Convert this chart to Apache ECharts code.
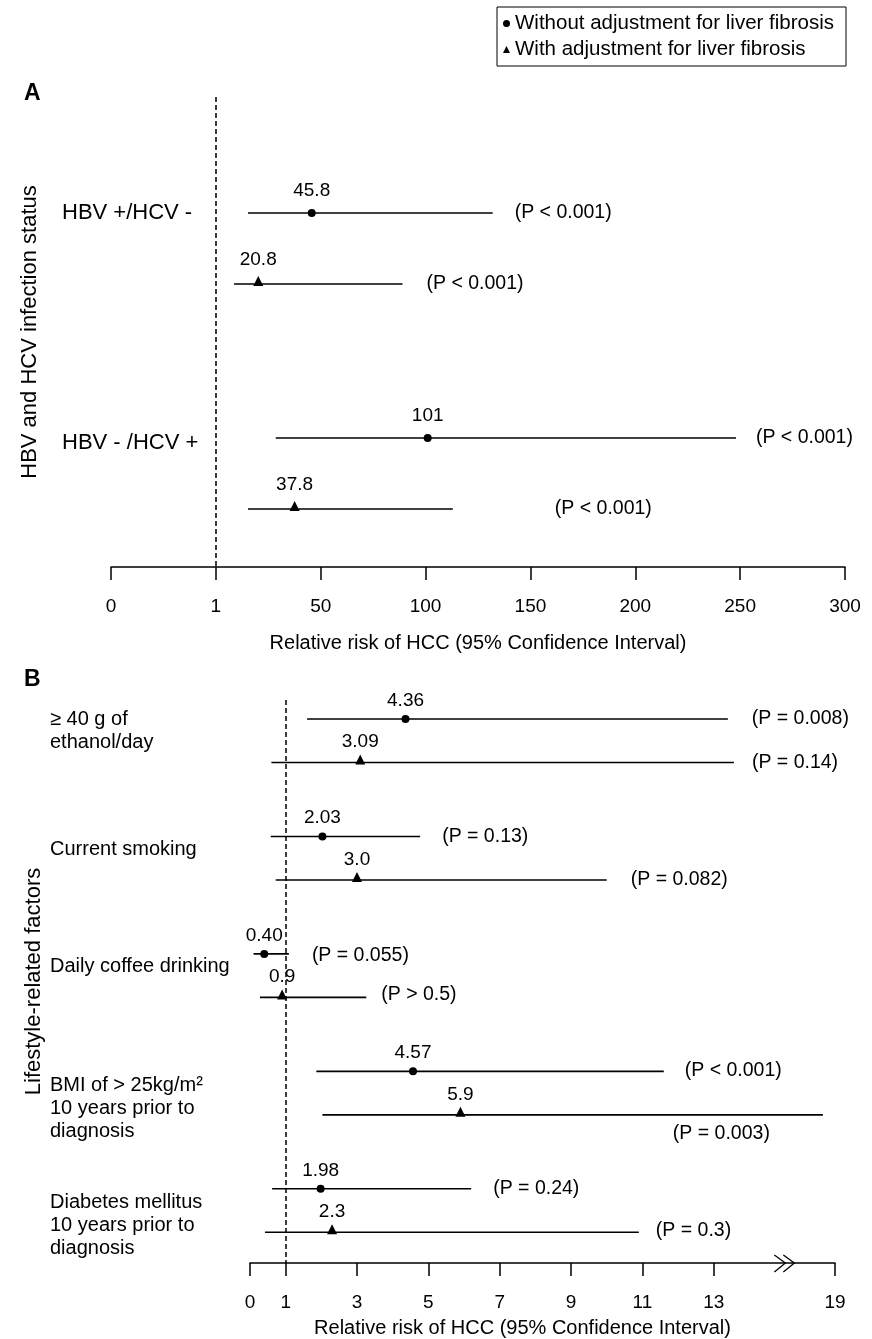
<!DOCTYPE html>
<html>
<head>
<meta charset="utf-8">
<title>Relative risk of HCC</title>
<script src="https://cdn.jsdelivr.net/npm/echarts@6.0.0/dist/echarts.min.js"></script>
<style>
html, body { margin: 0; padding: 0; background: #fff; }
#hccChart { width: 872px; height: 1339px; }
</style>
</head>
<body>
<div id="hccChart"></div>
<script>
// A: HBV and HCV infection status (rows go dot, triangle, dot, triangle)
var groupsA = ['HBV +/HCV -', 'HBV - /HCV +'];
var rrA = ['45.8', '20.8', '101', '37.8'];
var lowA = [16, 9.5, 29, 16];
var highA = [132, 89, 248, 113];
var pvalA = ['(P < 0.001)', '(P < 0.001)', '(P < 0.001)', '(P < 0.001)'];
var ticksA = [0, 1, 50, 100, 150, 200, 250, 300];

// B: lifestyle-related factors
var groupsB = ['\u2265 40 g of\nethanol/day', 'Current smoking', 'Daily coffee drinking',
    'BMI of > 25kg/m\u00b2\n10 years prior to\ndiagnosis', 'Diabetes mellitus\n10 years prior to\ndiagnosis'];
var rrB = ['4.36', '3.09', '2.03', '3.0', '0.40', '0.9', '4.57', '5.9', '1.98', '2.3'];
var lowB = [1.6, 0.6, 0.58, 0.72, 0.1, 0.28, 1.86, 2.03, 0.62, 0.42];
var highB = [13.7, 14.0, 4.77, 10.0, 1.09, 3.26, 11.6, 18.4, 6.2, 10.9];
var pvalB = ['(P = 0.008)', '(P = 0.14)', '(P = 0.13)', '(P = 0.082)', '(P = 0.055)',
    '(P > 0.5)', '(P < 0.001)', '(P = 0.003)', '(P = 0.24)', '(P = 0.3)'];
var ticksB = [0, 1, 3, 5, 7, 9, 11, 13, 19];

var seriesNames = ['Without adjustment for liver fibrosis', 'With adjustment for liver fibrosis'];

// layout only
var FONT = '"Liberation Sans", Arial, sans-serif';
var INK = '#000';
var slotsA = [0, 1, 2, 3, 4, 5, 6, 7];          // ticks drawn evenly spaced
var slotsB = [0, 1, 3, 5, 7, 9, 11, 13, 16.4];  // axis squeezed after the break at 13
var stepA = 3.17, stepB = 2.7;                  // row slots from one group to the next
var pShiftA = [[22, 0], [24, 0], [20, 0], [102, 0]];
var pShiftB = [[24, 0], [18, 0], [22, 0], [24, 0], [23, 2], [15, -3], [21, -1], [-150, 19], [22, 0], [17, -2]];
var groupDyA = [0, 5];
var groupDyB = [12, 13, 13, 37, 37];

// value -> position on the drawn (piecewise) axis
function toSlot(v, ticks, slots) {
    for (var i = 0; i < ticks.length - 2; i++) {
        if (v <= ticks[i + 1]) break;
    }
    return slots[i] + (v - ticks[i]) / (ticks[i + 1] - ticks[i]) * (slots[i + 1] - slots[i]);
}
function slotLabel(v, ticks, slots) {
    for (var i = 0; i < slots.length; i++) {
        if (Math.abs(slots[i] - v) < 1e-6) return String(ticks[i]);
    }
    return '';
}
function rowOf(i, step) {
    return Math.floor(i / 2) * step + (i % 2);
}

function ciSeries(k, low, high, pvals, shifts, ticks, slots, step) {
    return {
        type: 'custom',
        xAxisIndex: k, yAxisIndex: k,
        z: 2,
        silent: true,
        encode: { x: [0, 1], y: 2 },
        data: low.map(function (lo, i) {
            return [toSlot(lo, ticks, slots), toSlot(high[i], ticks, slots), rowOf(i, step)];
        }),
        renderItem: function (params, api) {
            var a = api.coord([api.value(0), api.value(2)]);
            var b = api.coord([api.value(1), api.value(2)]);
            var sh = shifts[params.dataIndex];
            return {
                type: 'group',
                children: [{
                    type: 'line',
                    shape: { x1: a[0], y1: a[1], x2: b[0], y2: b[1] },
                    style: { stroke: INK, lineWidth: 1.6 }
                }, {
                    type: 'text',
                    x: b[0] + sh[0], y: b[1] + sh[1],
                    style: {
                        text: pvals[params.dataIndex],
                        fontSize: 19.5, fontFamily: FONT, fill: INK,
                        align: 'left', verticalAlign: 'middle'
                    }
                }]
            };
        }
    };
}

function pointSeries(k, kind, rr, ticks, slots, step, labelGap) {
    var data = [];
    rr.forEach(function (r, i) {
        if (i % 2 !== kind) return;
        data.push({ name: r, value: [toSlot(Number(r), ticks, slots), rowOf(i, step)] });
    });
    var s = {
        name: seriesNames[kind],
        type: 'scatter',
        xAxisIndex: k, yAxisIndex: k,
        z: 3,
        symbol: kind === 0 ? 'circle' : 'triangle',
        symbolSize: kind === 0 ? 8 : 10,
        symbolOffset: kind === 0 ? [0, 0] : [0, -3],
        itemStyle: { color: INK, opacity: 1 },
        label: {
            show: true, position: 'top', distance: labelGap,
            formatter: '{b}', fontSize: 19, fontFamily: FONT, color: INK, opacity: 1
        },
        emphasis: { disabled: true },
        data: data
    };
    if (kind === 0) {
        s.markLine = {
            silent: true, symbol: 'none', animation: false,
            label: { show: false },
            lineStyle: { color: INK, type: [5, 3], width: 1.5, opacity: 1 },
            data: [{ xAxis: toSlot(1, ticks, slots) }]
        };
    }
    return s;
}

function xAxisOf(k, ticks, slots, max, gap, namePad) {
    return {
        gridIndex: k, type: 'value', min: 0, max: max,
        axisLine: { show: true, onZero: false, lineStyle: { color: INK, width: 1.5 } },
        axisTick: { show: true, length: 13, customValues: slots, lineStyle: { color: INK, width: 1.5 } },
        axisLabel: {
            customValues: slots, margin: 30, fontSize: 19, fontFamily: FONT, color: INK,
            formatter: function (v) { return slotLabel(v, ticks, slots); }
        },
        splitLine: { show: false },
        name: 'Relative risk of HCC (95% Confidence Interval)',
        nameLocation: 'middle', nameGap: gap,
        nameTextStyle: { fontSize: 20, fontFamily: FONT, color: INK, padding: namePad }
    };
}

function yAxisOf(k, min, max, name, gap) {
    return {
        gridIndex: k, type: 'value', min: min, max: max, inverse: true,
        axisLine: { show: false }, axisTick: { show: false }, axisLabel: { show: false },
        splitLine: { show: false },
        name: name, nameLocation: 'middle', nameRotate: 90, nameGap: gap,
        nameTextStyle: { fontSize: 22, fontFamily: FONT, color: INK }
    };
}

var hccChart = echarts.init(document.getElementById('hccChart'));

var hccOption = {
    backgroundColor: '#fff',
    animation: false,
    textStyle: { fontFamily: FONT },
    title: [
        { text: 'A', left: 19, top: 77, textStyle: { fontSize: 23, fontWeight: 'bold', color: INK, fontFamily: FONT } },
        { text: 'B', left: 19, top: 663, textStyle: { fontSize: 23, fontWeight: 'bold', color: INK, fontFamily: FONT } }
    ],
    legend: {
        orient: 'vertical', left: 497, top: 7,
        selectedMode: false,
        borderColor: INK, borderWidth: 1, borderRadius: 0,
        padding: [6, 12, 6, 6],
        itemWidth: 7, itemHeight: 7, itemGap: 5,
        textStyle: { fontSize: 20.5, fontFamily: FONT, color: INK },
        data: [{ name: seriesNames[0], icon: 'circle' }, { name: seriesNames[1], icon: 'triangle' }]
    },
    grid: [
        { left: 111, right: 27, top: 97, bottom: 772, outerBoundsMode: 'none' },
        { left: 250, right: 37, top: 700, bottom: 76, outerBoundsMode: 'none' }
    ],
    xAxis: [
        xAxisOf(0, ticksA, slotsA, 7, 66, [0, 0, 0, 0]),
        xAxisOf(1, ticksB, slotsB, 16.4, 55, [0, 40, 0, 0])
    ],
    yAxis: [
        yAxisOf(0, -1.634, 4.986, 'HBV and HCV infection status', 70),
        yAxisOf(1, -0.437, 12.506, 'Lifestyle-related factors', 205)
    ],
    series: [
        ciSeries(0, lowA, highA, pvalA, pShiftA, ticksA, slotsA, stepA),
        ciSeries(1, lowB, highB, pvalB, pShiftB, ticksB, slotsB, stepB),
        pointSeries(0, 0, rrA, ticksA, slotsA, stepA, 9),
        pointSeries(0, 1, rrA, ticksA, slotsA, stepA, 7),
        pointSeries(1, 0, rrB, ticksB, slotsB, stepB, 5),
        pointSeries(1, 1, rrB, ticksB, slotsB, stepB, 3)
    ]
};
hccChart.setOption(hccOption);

// group names on the left, and the break mark on the B axis
var extras = [];
groupsA.forEach(function (g, i) {
    var p = hccChart.convertToPixel({ gridIndex: 0 }, [0, rowOf(i * 2, stepA)]);
    extras.push({
        type: 'text', x: 62, y: p[1] + groupDyA[i],
        style: { text: g, fontSize: 22, fontFamily: FONT, fill: INK, verticalAlign: 'middle' }
    });
});
groupsB.forEach(function (g, i) {
    var p = hccChart.convertToPixel({ gridIndex: 1 }, [0, rowOf(i * 2, stepB)]);
    extras.push({
        type: 'text', x: 50, y: p[1] + groupDyB[i],
        style: { text: g, fontSize: 20, lineHeight: 23, fontFamily: FONT, fill: INK, verticalAlign: 'middle' }
    });
});
var brk = hccChart.convertToPixel({ gridIndex: 1 }, [14.7, 12.506]);
[0, 9].forEach(function (dx) {
    extras.push({
        type: 'polyline',
        shape: { points: [[brk[0] + dx, brk[1] - 8], [brk[0] + dx + 11, brk[1]], [brk[0] + dx, brk[1] + 9]] },
        style: { stroke: INK, lineWidth: 1.3, fill: null }
    });
});
hccChart.setOption({ graphic: extras });
</script>
</body>
</html>
